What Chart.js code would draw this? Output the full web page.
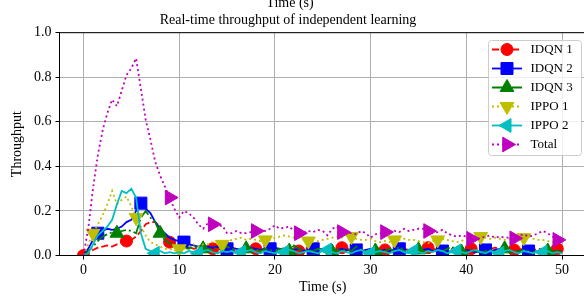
<!DOCTYPE html>
<html>
<head>
<meta charset="utf-8">
<script src="https://cdn.jsdelivr.net/npm/chart.js@4.4.0/dist/chart.umd.min.js"></script>
<style>
  html, body { margin: 0; padding: 0; overflow: hidden; background: #fff; }
  #c { position: absolute; left: 0; top: 0; }
</style>
</head>
<body>
<canvas id="c" width="600" height="296"></canvas>
<script>
// sample times (s)
const times = [0,0.5,1,1.5,2,2.5,3,3.5,4,4.5,5,5.5,6,6.5,7,7.5,8,8.5,9,9.5,
  10,10.5,11,11.5,12,12.5,13,13.5,14,14.5,15,15.5,16,16.5,17,17.5,18,18.5,19,19.5,
  20,20.5,21,21.5,22,22.5,23,23.5,24,24.5,25,25.5,26,26.5,27,27.5,28,28.5,29,29.5,
  30,30.5,31,31.5,32,32.5,33,33.5,34,34.5,35,35.5,36,36.5,37,37.5,38,38.5,39,39.5,
  40,40.5,41,41.5,42,42.5,43,43.5,44,44.5,45,45.5,46,46.5,47,47.5,48,48.5,49,49.5,50];

const idqn1 = [0,0.01,0.025,0.035,0.04,0.045,0.04,0.05,0.06,0.065,0.07,0.085,0.11,0.14,0.15,0.15,0.13,0.09,0.06,0.045,
  0.04,0.035,0.04,0.03,0.035,0.03,0.025,0.03,0.035,0.03,
  0.025,0.03,0.02,0.025,0.03,0.035,0.03,0.025,0.03,0.035,
  0.03,0.025,0.035,0.03,0.025,0.02,0.03,0.035,0.03,0.025,
  0.03,0.025,0.02,0.03,0.035,0.03,0.025,0.03,0.025,0.02,
  0.03,0.035,0.03,0.025,0.02,0.025,0.03,0.03,0.025,0.02,
  0.025,0.03,0.035,0.03,0.025,0.02,0.025,0.03,0.025,0.02,
  0.025,0.03,0.025,0.02,0.025,0.03,0.035,0.03,0.025,0.02,
  0.025,0.03,0.025,0.02,0.025,0.03,0.025,0.02,0.025,0.03,
  0.02];

const idqn2 = [0,0.03,0.07,0.10,0.11,0.12,0.115,0.12,0.13,0.15,0.16,0.20,0.235,0.21,0.19,0.15,0.12,0.10,0.08,0.07,
  0.065,0.06,0.05,0.045,0.04,0.045,0.04,0.035,0.04,0.035,
  0.03,0.035,0.03,0.025,0.03,0.035,0.03,0.025,0.03,0.03,
  0.035,0.03,0.025,0.03,0.025,0.03,0.02,0.025,0.03,0.025,
  0.03,0.025,0.02,0.025,0.03,0.025,0.02,0.025,0.02,0.025,
  0.03,0.025,0.02,0.025,0.02,0.025,0.03,0.025,0.02,0.025,
  0.02,0.025,0.03,0.02,0.025,0.02,0.015,0.02,0.025,0.02,
  0.025,0.02,0.015,0.02,0.025,0.02,0.025,0.03,0.025,0.02,
  0.015,0.02,0.025,0.02,0.015,0.02,0.025,0.02,0.015,0.02,
  0.015];

const idqn3 = [0,0.02,0.04,0.065,0.085,0.095,0.105,0.10,0.11,0.115,0.11,0.10,0.17,0.20,0.17,0.15,0.10,0.07,0.055,0.045,
  0.04,0.035,0.03,0.04,0.035,0.03,0.025,0.035,0.03,0.025,
  0.04,0.03,0.025,0.02,0.03,0.035,0.025,0.02,0.03,0.025,
  0.02,0.03,0.025,0.02,0.045,0.03,0.02,0.025,0.02,0.03,
  0.025,0.02,0.015,0.025,0.02,0.03,0.02,0.04,0.025,0.02,
  0.015,0.02,0.025,0.02,0.03,0.02,0.04,0.02,0.015,0.02,
  0.025,0.02,0.015,0.02,0.025,0.02,0.03,0.04,0.02,0.015,
  0.02,0.025,0.02,0.015,0.02,0.025,0.02,0.015,0.03,0.02,
  0.015,0.02,0.025,0.02,0.015,0.02,0.03,0.02,0.015,0.02,
  0.015];

const ippo1 = [0,0.05,0.10,0.14,0.18,0.23,0.29,0.23,0.25,0.265,
  0.22,0.17,0.13,0.09,0.06,0.05,0.04,0.03,0.03,0.02,
  0.03,0.03,0.04,0.05,0.04,0.05,0.05,0.06,0.06,0.05,
  0.06,0.07,0.075,0.08,0.07,0.075,0.07,0.065,0.07,0.07,
  0.08,0.085,0.09,0.085,0.08,0.08,0.07,0.065,0.06,0.065,
  0.07,0.075,0.08,0.085,0.08,0.09,0.085,0.075,0.07,0.07,
  0.075,0.065,0.06,0.065,0.06,0.07,0.07,0.075,0.07,0.07,
  0.065,0.06,0.055,0.065,0.07,0.075,0.07,0.065,0.06,0.065,
  0.075,0.09,0.095,0.085,0.08,0.075,0.08,0.075,0.07,0.075,
  0.07,0.075,0.08,0.085,0.075,0.07,0.07,0.065,0.06,0.065,
  0.06];

const ippo2 = [0,0.01,0.05,0.09,0.11,0.13,0.16,0.23,0.29,0.28,0.30,0.26,0.10,0.03,0.02,0.01,0.02,0.01,0.015,0.01,
  0.015,0.01,0.02,0.015,0.01,0.02,0.025,0.015,0.01,0.02,
  0.015,0.02,0.01,0.015,0.02,0.025,0.015,0.01,0.02,0.015,
  0.01,0.02,0.015,0.025,0.02,0.01,0.015,0.02,0.015,0.01,
  0.02,0.025,0.015,0.01,0.02,0.015,0.01,0.02,0.025,0.015,
  0.01,0.015,0.02,0.015,0.01,0.02,0.025,0.015,0.01,0.02,
  0.015,0.01,0.02,0.015,0.025,0.02,0.01,0.015,0.02,0.015,
  0.01,0.02,0.025,0.015,0.01,0.02,0.015,0.01,0.02,0.025,
  0.015,0.01,0.02,0.015,0.01,0.02,0.015,0.02,0.01,0.015,
  0.01];

const total = [0,0.12,0.30,0.45,0.56,0.64,0.70,0.67,0.74,0.81,
  0.84,0.885,0.75,0.61,0.52,0.42,0.36,0.31,0.26,0.21,
  0.17,0.20,0.19,0.17,0.14,0.12,0.145,0.14,0.13,0.135,
  0.10,0.10,0.11,0.10,0.10,0.105,0.11,0.115,0.11,0.12,
  0.135,0.12,0.125,0.13,0.11,0.10,0.105,0.11,0.105,0.115,
  0.11,0.09,0.12,0.13,0.105,0.10,0.10,0.095,0.11,0.10,
  0.08,0.095,0.10,0.105,0.10,0.11,0.105,0.12,0.11,0.115,
  0.12,0.12,0.11,0.10,0.105,0.115,0.10,0.09,0.085,0.09,
  0.085,0.075,0.07,0.08,0.085,0.09,0.08,0.085,0.08,0.08,
  0.077,0.09,0.095,0.085,0.09,0.10,0.11,0.10,0.085,0.07,
  0.06];

const xTicks = [0, 10, 20, 30, 40, 50];
const yTicks = [0, 0.2, 0.4, 0.6, 0.8, 1.0];

const FONT = '"Liberation Serif", "Times New Roman", serif';

// style of each series (matplotlib-like markevery)
const series = [
  { label: 'IDQN 1', data: idqn1, color: '#ff0000', dash: [7, 3],        style: 'circle',   rot: 0,   r: 6,   start: 0 },
  { label: 'IDQN 2', data: idqn2, color: '#0000ff', dash: [],            style: 'rect',     rot: 0,   r: 8.5, start: 3 },
  { label: 'IDQN 3', data: idqn3, color: '#008000', dash: [12, 3, 2, 3], style: 'triangle', rot: 0,   r: 8,   start: 7 },
  { label: 'IPPO 1', data: ippo1, color: '#bfbf00', dash: [2, 3],        style: 'triangle', rot: 180, r: 8,   start: 2 },
  { label: 'IPPO 2', data: ippo2, color: '#00bfbf', dash: [],            style: 'triangle', rot: 270, r: 8,   start: 15 },
  { label: 'Total',  data: total, color: '#bf00bf', dash: [2, 3],        style: 'triangle', rot: 90,  r: 8.5, start: 18 }
];
const markEvery = 9;

const datasets = series.map((s, i) => ({
  label: s.label,
  data: times.map((t, k) => ({ x: t, y: s.data[k] })),
  borderColor: s.color,
  backgroundColor: s.color,
  borderWidth: 1.8,
  borderDash: s.dash,
  pointStyle: s.style,
  pointRotation: s.rot,
  pointBackgroundColor: s.color,
  pointBorderColor: s.color,
  pointBorderWidth: 1,
  pointRadius: ctx => (ctx.dataIndex >= s.start && (ctx.dataIndex - s.start) % markEvery === 0) ? s.r : 0,
  pointHoverRadius: 0,
  clip: 0,
  order: series.length - 1 - i
}));

function drawMark(ctx, style, rot, r, x, y) {
  ctx.beginPath();
  if (style === 'circle') {
    ctx.arc(x, y, r, 0, Math.PI * 2);
  } else if (style === 'rect') {
    const h = r * Math.SQRT1_2;
    ctx.rect(x - h, y - h, 2 * h, 2 * h);
  } else {
    let a = rot * Math.PI / 180;
    for (let k = 0; k < 3; k++) {
      const px = x + Math.sin(a) * r, py = y - Math.cos(a) * r;
      if (k === 0) ctx.moveTo(px, py); else ctx.lineTo(px, py);
      a += Math.PI * 2 / 3;
    }
  }
  ctx.closePath();
  ctx.fill();
  ctx.stroke();
}

const overlay = {
  id: 'overlay',
  afterDraw(chart) {
    const { ctx, chartArea: a } = chart;
    ctx.save();
    // frame
    ctx.strokeStyle = '#000';
    ctx.lineWidth = 1;
    ctx.strokeRect(a.left, a.top, a.right - a.left, a.bottom - a.top);

    // titles (the upper one belongs to the subplot above, cut by the crop)
    ctx.fillStyle = '#000';
    ctx.font = '14px ' + FONT;
    ctx.textAlign = 'center';
    ctx.textBaseline = 'alphabetic';
    ctx.fillText('Time (s)', 290, 7.3);
    ctx.fillText('Real-time throughput of independent learning', 288, 24);

    // legend
    const bx = a.right - 98, by = a.top + 7.3, bw = 93, bh = 115;
    ctx.beginPath();
    ctx.roundRect(bx + 0.5, by + 0.5, bw, bh, 3);
    ctx.fillStyle = 'rgba(255,255,255,0.8)';
    ctx.fill();
    ctx.strokeStyle = '#cccccc';
    ctx.stroke();
    ctx.font = '13px ' + FONT;
    ctx.textAlign = 'left';
    ctx.textBaseline = 'middle';
    series.forEach((s, i) => {
      const y = by + 9.5 + 19 * i;
      ctx.strokeStyle = s.color;
      ctx.fillStyle = s.color;
      ctx.lineWidth = 1.8;
      ctx.setLineDash(s.dash);
      ctx.beginPath();
      ctx.moveTo(bx + 4, y);
      ctx.lineTo(bx + 34, y);
      ctx.stroke();
      ctx.setLineDash([]);
      ctx.lineWidth = 1;
      drawMark(ctx, s.style, s.rot, s.r, bx + 19, y);
      ctx.fillStyle = '#000';
      ctx.fillText(s.label, bx + 42.5, y + 0.5);
    });
    ctx.restore();
  }
};

new Chart(document.getElementById('c'), {
  type: 'line',
  data: { datasets },
  options: {
    responsive: false,
    devicePixelRatio: 1,
    animation: false,
    events: [],
    layout: { padding: { top: 32.7, right: 14, left: 0, bottom: 0 } },
    plugins: { legend: { display: false }, title: { display: false }, tooltip: { enabled: false } },
    scales: {
      x: {
        type: 'linear',
        min: -2.5,
        max: 52.5,
        afterBuildTicks: s => { s.ticks = xTicks.map(v => ({ value: v })); },
        afterFit: s => { s.height = 40.5; },
        ticks: { font: { family: FONT, size: 14 }, color: '#000', padding: 2, maxRotation: 0 },
        grid: { color: '#b0b0b0', lineWidth: 1, tickColor: '#000', tickLength: 4 },
        border: { display: true, color: '#000', width: 1 },
        title: { display: true, text: 'Time (s)', font: { family: FONT, size: 14 }, color: '#000', padding: { top: 0, bottom: 0 } }
      },
      y: {
        type: 'linear',
        min: 0,
        max: 1,
        afterBuildTicks: s => { s.ticks = yTicks.map(v => ({ value: v })); },
        afterFit: s => { s.width = 59.5; },
        ticks: { font: { family: FONT, size: 14 }, color: '#000', padding: 4, callback: v => v.toFixed(1) },
        grid: { color: '#b0b0b0', lineWidth: 1, tickColor: '#000', tickLength: 4 },
        border: { display: true, color: '#000', width: 1 },
        title: { display: true, text: 'Throughput', font: { family: FONT, size: 14 }, color: '#000', padding: { top: 9, bottom: 0 } }
      }
    }
  },
  plugins: [overlay]
});
</script>
</body>
</html>
